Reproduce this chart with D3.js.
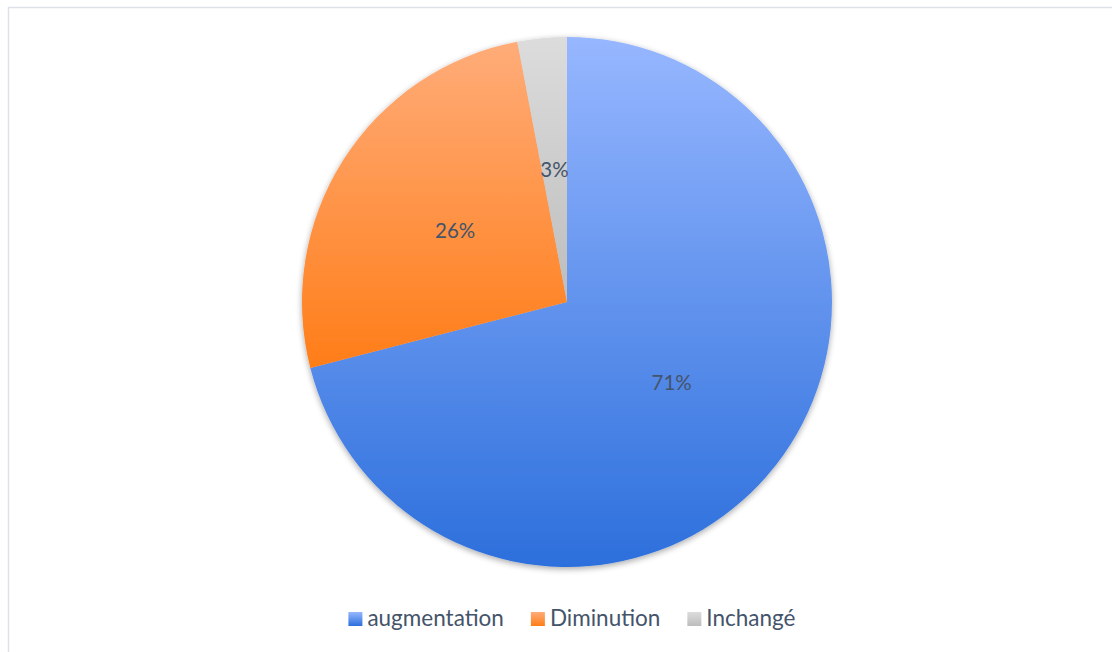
<!DOCTYPE html>
<html>
<head>
<meta charset="utf-8">
<script src="https://cdn.jsdelivr.net/npm/d3@7"></script>
<style>
  html, body { margin: 0; padding: 0; background: #fff; }
  svg { display: block; }
</style>
</head>
<body>
<svg id="chart" width="1112" height="652"></svg>
<script>
const categories = ["augmentation", "Diminution", "Inchangé"];
const values = [71, 26, 3];
const labels = ["71%", "26%", "3%"];
const colorsTop = ["#97b7ff", "#ffac79", "#dcdcdc"];
const colorsBottom = ["#2c6fdc", "#ff7d18", "#bdbdbd"];

const svg = d3.select("#chart");
const W = 1112, H = 652;
const cx = 567, cy = 302, R = 265;

// outer border
svg.append("rect").attr("x", 8.5).attr("y", 7.5).attr("width", 1130).attr("height", 680)
  .attr("fill", "#fff").attr("stroke", "#dde2e8").attr("stroke-width", 1.5);

const defs = svg.append("defs");
categories.forEach((c, i) => {
  const g = defs.append("linearGradient").attr("id", "grad" + i)
    .attr("x1", 0).attr("y1", 0).attr("x2", 0).attr("y2", 1);
  g.append("stop").attr("offset", "0%").attr("stop-color", colorsTop[i]);
  g.append("stop").attr("offset", "100%").attr("stop-color", colorsBottom[i]);
});
const f = defs.append("filter").attr("id", "shadow").attr("x", "-10%").attr("y", "-10%").attr("width", "120%").attr("height", "120%");
f.append("feGaussianBlur").attr("in", "SourceAlpha").attr("stdDeviation", 3);
f.append("feOffset").attr("dx", 0).attr("dy", 2).attr("result", "ob");
f.append("feComponentTransfer").append("feFuncA").attr("type", "linear").attr("slope", 0.35);
const m = f.append("feMerge");
m.append("feMergeNode");
m.append("feMergeNode").attr("in", "SourceGraphic");

const pie = d3.pie().sort(null).value(d => d);
const arcs = pie(values);
const arc = d3.arc().innerRadius(0).outerRadius(R);

const g = svg.append("g").attr("transform", `translate(${cx},${cy})`);
g.append("g").attr("filter", "url(#shadow)")
  .selectAll("path").data(arcs).enter().append("path")
  .attr("d", arc)
  .attr("fill", (d, i) => `url(#grad${i})`);

g.selectAll("text.lbl").data(arcs).enter().append("text")
  .attr("class", "lbl")
  .attr("transform", d => `translate(${arc.centroid(d)})`)
  .attr("text-anchor", "middle").attr("dy", "0.35em")
  .attr("font-family", "Lato, 'Open Sans', sans-serif").attr("font-size", 20.5)
  .attr("fill", "#44546a")
  .text((d, i) => labels[i]);

// legend
const legend = svg.append("g");
const items = legend.selectAll("g").data(categories).enter().append("g");
items.append("rect").attr("width", 14).attr("height", 14).attr("y", -6)
  .attr("fill", (d, i) => `url(#grad${i})`);
items.append("text").attr("x", 19).attr("y", 0).attr("dy", "0.35em")
  .attr("font-family", "Lato, 'Open Sans', sans-serif").attr("font-size", 22.5)
  .attr("fill", "#44546a").text(d => d);
// layout legend centered
let widths = [];
items.each(function() { widths.push(this.getBBox().width); });
const gap = 27;
const total = d3.sum(widths) + gap * (widths.length - 1);
let x = 572 - total / 2;
items.each(function(d, i) {
  d3.select(this).attr("transform", `translate(${x},${618})`);
  x += widths[i] + gap;
});
</script>
</body>
</html>
